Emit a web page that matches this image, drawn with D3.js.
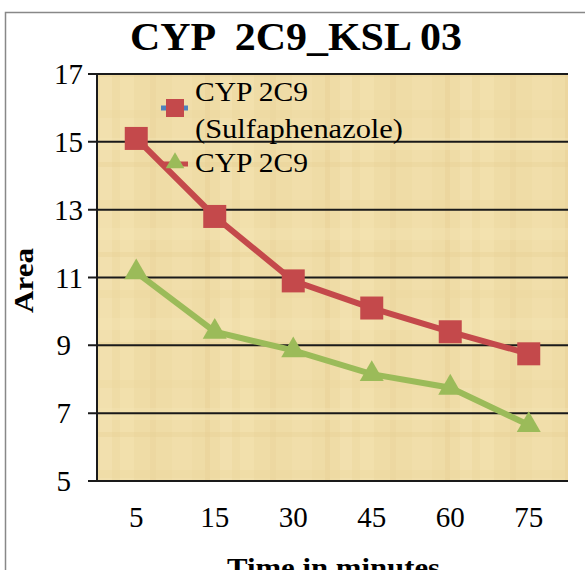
<!DOCTYPE html>
<html>
<head>
<meta charset="utf-8">
<script src="https://cdn.jsdelivr.net/npm/d3@7"></script>
<style>
  body { margin: 0; background: #fff; }
  text { font-family: "Liberation Serif", "Times New Roman", serif; }
</style>
</head>
<body>
<svg width="585" height="570"></svg>
<script>
// chart values
var times = ["5", "15", "30", "45", "60", "75"];
var sulfa = [15.1, 12.8, 10.9, 10.1, 9.4, 8.75];
var plain = [11.15, 9.4, 8.85, 8.15, 7.75, 6.65];
var yTicks = [5, 7, 9, 11, 13, 15, 17];
var seriesNames = [["CYP 2C9", "(Sulfaphenazole)"], ["CYP 2C9"]];

var red = "#c4494b", green = "#9bbb59", blue = "#4f81bd";

var svg = d3.select("svg");
var pLeft = 97, pRight = 568, pTop = 74, pBottom = 481;

var x = d3.scaleBand().domain(times).range([pLeft, pRight]);
var y = d3.scaleLinear().domain([5, 17]).range([pBottom, pTop]);

// outer frame
svg.append("path")
    .attr("d", "M5.5,600 V12.5 H600")
    .attr("fill", "none")
    .attr("stroke", "#888")
    .attr("stroke-width", 1.5);

// parchment-ish background
var defs = svg.append("defs");
var pat = defs.append("pattern")
    .attr("id", "paper")
    .attr("patternUnits", "userSpaceOnUse")
    .attr("width", 120).attr("height", 90);
pat.append("rect").attr("width", 120).attr("height", 90).attr("fill", "#efdca6");
[[0, 0, 14, 90, "#f5e6b8"], [30, 0, 6, 90, "#e6d096"], [52, 0, 20, 90, "#f3e2b0"],
 [85, 0, 5, 90, "#e4cc8f"], [100, 0, 12, 90, "#f6e8bc"],
 [0, 20, 120, 8, "#e9d59c"], [0, 48, 120, 12, "#f4e4b3"], [0, 72, 120, 5, "#e5cf93"]]
  .forEach(function(r) {
    pat.append("rect").attr("x", r[0]).attr("y", r[1]).attr("width", r[2]).attr("height", r[3])
        .attr("fill", r[4]).attr("opacity", 0.35);
  });

svg.append("rect")
    .attr("x", pLeft).attr("y", pTop)
    .attr("width", pRight - pLeft).attr("height", pBottom - pTop)
    .attr("fill", "url(#paper)");

// gridlines
svg.append("g")
  .selectAll("line")
  .data(yTicks)
  .enter().append("line")
    .attr("x1", pLeft - 9).attr("x2", pRight)
    .attr("y1", function(d) { return y(d); })
    .attr("y2", function(d) { return y(d); })
    .attr("stroke", "#1a1a1a")
    .attr("stroke-width", 2);

svg.append("line")
    .attr("x1", pLeft).attr("x2", pLeft)
    .attr("y1", pTop).attr("y2", pBottom)
    .attr("stroke", "#1a1a1a").attr("stroke-width", 2);

// y tick labels
svg.append("g")
  .selectAll("text")
  .data(yTicks)
  .enter().append("text")
    .attr("x", function(d) { return d >= 10 ? 83 : 71; })
    .attr("y", function(d) { return y(d) + 10; })
    .attr("text-anchor", "end")
    .attr("font-size", 29)
    .text(function(d) { return d; });

// x tick labels
svg.append("g")
  .selectAll("text")
  .data(times)
  .enter().append("text")
    .attr("x", function(d) { return x(d) + x.bandwidth() / 2; })
    .attr("y", 527)
    .attr("text-anchor", "middle")
    .attr("font-size", 29)
    .text(function(d) { return d; });

// titles
svg.append("text")
    .attr("x", 130).attr("y", 50)
    .attr("font-size", 39).attr("font-weight", "bold")
    .attr("textLength", 332).attr("lengthAdjust", "spacingAndGlyphs")
    .style("white-space", "pre")
    .text("CYP  2C9_KSL 03");

svg.append("text")
    .attr("x", 227).attr("y", 577)
    .attr("font-size", 28).attr("font-weight", "bold")
    .attr("textLength", 213).attr("lengthAdjust", "spacingAndGlyphs")
    .text("Time in minutes");

svg.append("text")
    .attr("transform", "translate(33,313) rotate(-90)")
    .attr("font-size", 27).attr("font-weight", "bold")
    .attr("textLength", 65).attr("lengthAdjust", "spacingAndGlyphs")
    .text("Area");

// series
var cx = function(d, i) { return x(times[i]) + x.bandwidth() / 2; };
var line = d3.line().x(cx).y(function(d) { return y(d); });

svg.append("path").datum(plain)
    .attr("d", line).attr("fill", "none")
    .attr("stroke", green).attr("stroke-width", 6);
svg.append("g").selectAll("path").data(plain).enter().append("path")
    .attr("d", d3.symbol().type(d3.symbolTriangle).size(250))
    .attr("transform", function(d, i) { return "translate(" + cx(d, i) + "," + y(d) + ")"; })
    .attr("fill", green);

svg.append("path").datum(sulfa)
    .attr("d", line).attr("fill", "none")
    .attr("stroke", red).attr("stroke-width", 6);
svg.append("g").selectAll("rect").data(sulfa).enter().append("rect")
    .attr("x", function(d, i) { return cx(d, i) - 11.5; })
    .attr("y", function(d) { return y(d) - 11.5; })
    .attr("width", 23).attr("height", 23)
    .attr("fill", red);

// legend
var lg = svg.append("g");
lg.append("line").attr("x1", 161).attr("x2", 188).attr("y1", 108).attr("y2", 108)
    .attr("stroke", blue).attr("stroke-width", 5);
lg.append("rect").attr("x", 166).attr("y", 99).attr("width", 18).attr("height", 18).attr("fill", red);
lg.append("line").attr("x1", 163).attr("x2", 188).attr("y1", 164).attr("y2", 164)
    .attr("stroke", red).attr("stroke-width", 5);
lg.append("path")
    .attr("d", d3.symbol().type(d3.symbolTriangle).size(150))
    .attr("transform", "translate(175,163)")
    .attr("fill", green);

var legendText = [[seriesNames[0][0], 101, 113], [seriesNames[0][1], 138, 208], [seriesNames[1][0], 172, 113]];
lg.selectAll("text").data(legendText).enter().append("text")
    .attr("x", 195)
    .attr("y", function(d) { return d[1]; })
    .attr("font-size", 28)
    .attr("textLength", function(d) { return d[2]; })
    .attr("lengthAdjust", "spacingAndGlyphs")
    .text(function(d) { return d[0]; });
</script>
</body>
</html>
